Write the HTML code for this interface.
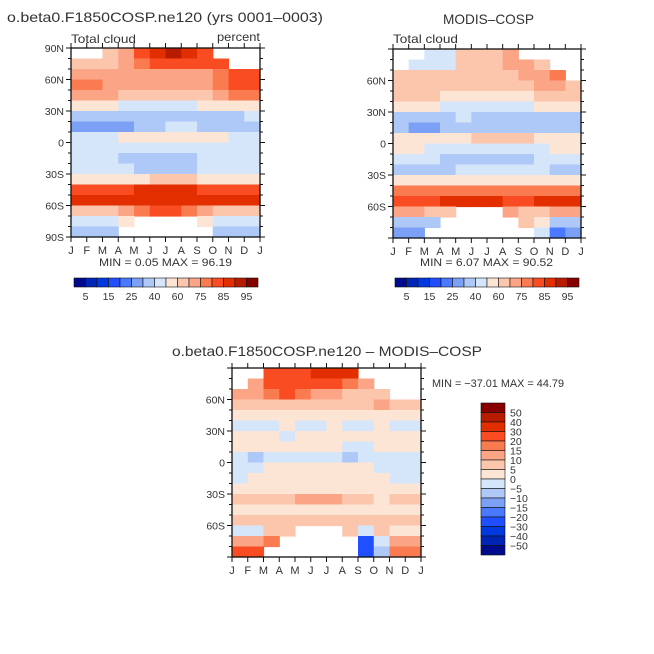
<!DOCTYPE html>
<html><head><meta charset="utf-8"><style>
body{margin:0;background:#fff;width:654px;height:654px;overflow:hidden}
svg{display:block;font-family:"Liberation Sans",sans-serif}
</style></head><body>
<svg id="s" width="654" height="654" xmlns="http://www.w3.org/2000/svg">
<text x="7" y="22" font-size="14" fill="#333" textLength="316" lengthAdjust="spacingAndGlyphs">o.beta0.F1850COSP.ne120 (yrs 0001–0003)</text>
<text x="71" y="43" font-size="12" fill="#333" textLength="65" lengthAdjust="spacingAndGlyphs">Total cloud</text>
<text x="260" y="41" font-size="12" fill="#333" text-anchor="end" textLength="43" lengthAdjust="spacingAndGlyphs">percent</text>
<text x="443" y="24" font-size="14" fill="#333" textLength="91" lengthAdjust="spacingAndGlyphs">MODIS–COSP</text>
<text x="393" y="43" font-size="12" fill="#333" textLength="65" lengthAdjust="spacingAndGlyphs">Total cloud</text>
<text x="172" y="356" font-size="14" fill="#333" textLength="310" lengthAdjust="spacingAndGlyphs">o.beta0.F1850COSP.ne120 – MODIS–COSP</text>
<text x="99" y="266" font-size="11" fill="#333" textLength="133" lengthAdjust="spacingAndGlyphs">MIN =    0.05 MAX =   96.19</text>
<text x="420" y="266" font-size="11" fill="#333" textLength="133" lengthAdjust="spacingAndGlyphs">MIN =    6.07 MAX =   90.52</text>
<text x="432" y="387" font-size="11" fill="#333" textLength="132" lengthAdjust="spacingAndGlyphs">MIN = −37.01 MAX =  44.79</text>
</svg>
<script>
const months=["J","F","M","A","M","J","J","A","S","O","N","D","J"];
const latLabels=["90N","60N","30N","0","30S","60S","90S"];
const cloudLevels=[5,10,15,20,25,30,40,50,60,70,75,80,85,90,95];
const cloudLabels=["5","15","25","40","60","75","85","95"];
const diffLevels=[-50,-40,-30,-20,-15,-10,-5,0,5,10,15,20,30,40,50];
const diffLabels=["50","40","30","20","15","10","5","0","−5","−10","−15","−20","−30","−40","−50"];
const colors=["#000a8c","#0025b5","#0039e0","#1f4fff","#4a78ff","#7ba0f5","#aec8f8","#d6e6fa","#fde5d6","#fcc6ad","#fca586","#fb7b50","#fa4c22","#e32e00","#b81c00","#860000"];
const N=null;
const modelData=[
[N,N,65,72,84,88,92,86,84,N,N,N],
[62,60,65,72,78,82,84,82,80,80,N,N],
[70,70,70,72,74,74,74,74,74,77,82,80],
[78,76,74,74,72,70,70,72,74,78,82,82],
[72,70,70,68,65,62,62,65,68,72,75,75],
[55,52,50,48,47,45,45,47,50,55,58,58],
[38,36,36,38,38,35,35,35,36,38,38,40],
[28,27,25,28,35,38,40,40,38,32,30,32],
[45,45,48,52,55,58,58,58,55,52,48,47],
[45,48,45,42,45,45,45,45,45,45,45,45],
[45,45,40,38,38,38,38,38,40,45,45,45],
[45,45,40,40,38,38,38,38,42,45,45,45],
[58,56,55,55,56,60,62,60,56,55,56,58],
[80,80,82,84,86,87,87,86,84,82,80,80],
[87,87,87,87,88,88,88,88,87,87,87,87],
[65,65,68,72,78,80,80,78,72,68,65,65],
[45,45,48,52,N,N,N,N,50,45,45,45],
[35,35,38,N,N,N,N,N,N,35,35,35]];
const obsData=[
[N,N,45,45,60,66,68,70,N,N,N,N],
[N,48,45,40,62,65,66,70,72,68,N,N],
[62,62,62,60,62,62,65,68,70,72,75,N],
[65,65,62,62,66,66,62,62,65,70,70,68],
[62,62,60,58,58,58,55,52,55,62,65,65],
[55,52,50,48,45,45,42,42,45,50,55,55],
[35,35,35,38,40,35,32,30,30,32,32,35],
[30,25,28,30,35,38,38,38,35,32,30,30],
[58,56,55,55,57,60,62,62,60,58,56,56],
[58,55,45,42,40,40,40,42,45,45,50,58],
[45,45,40,38,35,35,38,38,38,42,45,45],
[38,38,38,38,40,42,45,45,42,40,38,38],
[58,58,56,55,55,55,55,55,56,57,58,58],
[75,75,75,75,75,75,75,75,75,75,75,75],
[82,82,82,85,86,86,85,82,82,85,85,85],
[70,70,65,62,N,N,N,72,65,68,70,70],
[30,30,35,N,N,N,N,N,65,55,30,30],
[25,25,N,N,N,N,N,N,N,45,20,25]];
const diffData=[
[N,N,25,25,28,30,32,30,N,N,N,N],
[N,12,20,22,25,25,22,15,10,N,N,N],
[10,10,15,20,15,12,10,8,8,8,N,N],
[8,8,8,8,8,8,8,8,8,10,8,8],
[4,4,4,4,4,4,4,4,4,4,4,4],
[-3,-3,-2,3,-3,-3,2,-3,-3,4,-3,-3],
[3,3,3,-3,3,3,3,3,3,3,3,3],
[3,3,3,3,3,3,3,-3,-3,3,3,3],
[-3,-6,-3,-3,-3,-3,-3,-6,-3,-3,-3,-3],
[-3,-3,3,3,3,3,3,3,3,-3,-3,-3],
[-3,3,3,3,3,3,3,3,3,3,-3,-3],
[3,3,3,3,3,3,3,3,3,3,3,3],
[6,6,8,8,10,12,12,8,6,3,6,6],
[4,4,4,4,4,4,4,4,4,4,4,4],
[6,6,6,6,6,6,6,6,6,6,6,6],
[-3,-3,5,8,N,N,N,8,-5,5,3,3],
[10,12,15,N,N,N,N,N,-30,-5,10,10],
[20,22,N,N,N,N,N,N,-25,-8,15,15]];

const svg=document.getElementById('s');
const NS="http://www.w3.org/2000/svg";
function mk(tag,attrs,parent){const e=document.createElementNS(NS,tag);for(const k in attrs)e.setAttribute(k,attrs[k]);(parent||svg).appendChild(e);return e;}
function colorFor(v,levels){let i=0;while(i<levels.length&&v>=levels[i])i++;return colors[i];}

function drawPanel(name,data,levels,x0,y0,w,h,showLatLabels){
  const g=mk('g',{});
  
  
  const nr=data.length,nc=data[0].length;
  const xs=c=>x0+c*w/nc, ys=r=>y0+r*h/nr;
  data.forEach((row,r)=>row.forEach((v,c)=>{
    if(v===null)return;
    const rc=mk('rect',{x:xs(c).toFixed(2),y:ys(r).toFixed(2),width:(w/nc+0.6).toFixed(2),height:(h/nr+0.6).toFixed(2),fill:colorFor(v,levels)},g);
    
    
  }));
  const fr=mk('rect',{x:x0,y:y0,width:w,height:h,fill:'none',stroke:'#111','stroke-width':1.3},g);
  
  
  months.forEach((m,i)=>{
    const x=x0+i*w/12;
    mk('line',{x1:x,x2:x,y1:y0+h,y2:y0+h+5,stroke:'#111'},g);
    mk('line',{x1:x,x2:x,y1:y0,y2:y0-5,stroke:'#111'},g);
    const t=mk('text',{x:x,y:y0+h+17,'font-size':11,'text-anchor':'middle',fill:'#333'},g);
    t.textContent=m;
    
    
  });
  for(let k=0;k<=18;k++){
    const y=y0+k*h/18, major=k%3===0, len=major?5:3;
    mk('line',{x1:x0,x2:x0-len,y1:y,y2:y,stroke:'#111'},g);
    mk('line',{x1:x0+w,x2:x0+w+len,y1:y,y2:y,stroke:'#111'},g);
  }
  latLabels.forEach((l,i)=>{
    if(!showLatLabels[i])return;
    const t=mk('text',{x:x0-7,y:y0+i*h/6+4,'font-size':10.5,'text-anchor':'end',fill:'#333'},g);
    t.textContent=l;
    
    
  });
}
function hbar(name,x0,y0,w,h){
  const g=mk('g',{});
  
  
  const n=colors.length;
  colors.forEach((c,i)=>{mk('rect',{x:x0+i*w/n,y:y0,width:w/n,height:h,fill:c,stroke:'#111','stroke-width':0.6},g);});
  cloudLabels.forEach((l,j)=>{
    const t=mk('text',{x:x0+(2*j+1)*w/n,y:y0+h+13,'font-size':10.5,'text-anchor':'middle',fill:'#333'},g);
    t.textContent=l;
    
    
  });
}
function vbar(name,x0,y0,w,h){
  const g=mk('g',{});
  
  
  const n=colors.length;
  colors.slice().reverse().forEach((c,i)=>{mk('rect',{x:x0,y:y0+i*h/n,width:w,height:h/n,fill:c,stroke:'#111','stroke-width':0.6},g);});
  diffLabels.forEach((l,j)=>{
    const t=mk('text',{x:x0+w+5,y:y0+(j+1)*h/n+4,'font-size':10.5,fill:'#333'},g);
    t.textContent=l;
    
    
  });
}
drawPanel('model-panel',modelData,cloudLevels,71,48,189,189,[1,1,1,1,1,1,1]);
drawPanel('obs-panel',obsData,cloudLevels,393,49,188,189,[0,1,1,1,1,1,0]);
drawPanel('diff-panel',diffData,diffLevels,232,368,189,189,[0,1,1,1,1,1,0]);
hbar('model-colorbar',74,278,184,9);
hbar('obs-colorbar',395,278,184,9);
vbar('diff-colorbar',481,403,24,152);
</script>
</body></html>
